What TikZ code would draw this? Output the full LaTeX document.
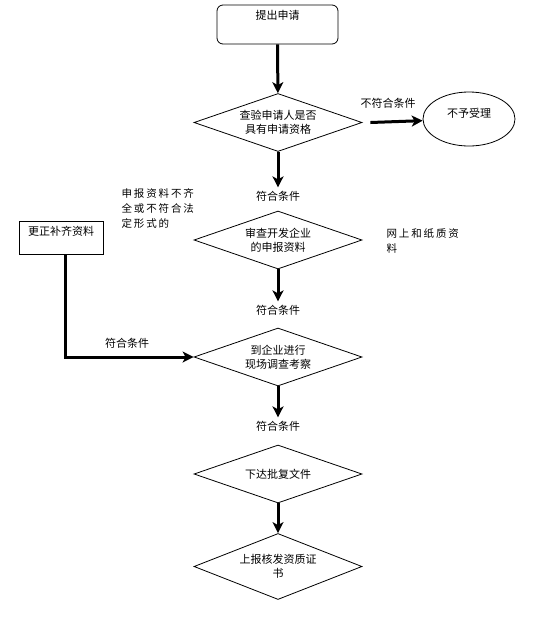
\documentclass[tikz,border=0pt]{standalone}
\usepackage{fontspec}
\setmainfont{Noto Sans CJK SC}
\newfontfamily\widecjk[LetterSpace=18]{Noto Sans CJK SC}
\usetikzlibrary{shapes.geometric,arrows.meta,shadows}
\begin{document}
\begin{tikzpicture}[x=1pt, y=-1pt,
    >={Stealth[length=11pt,width=11pt,inset=3pt]},
    every node/.style={font=\fontsize{11}{14}\selectfont},
    check/.style={diamond, draw, line width=0.8pt, aspect=2.9, minimum width=168pt,
      minimum height=58pt, inner sep=1pt, align=center},
    flow/.style={->, line width=3pt},
    note/.style={anchor=north west, align=left, font=\widecjk\fontsize{10.5}{15}\selectfont}]
    \useasboundingbox (0,0) rectangle (542,638);

    % Steps
    \node[draw, line width=0.8pt, rounded corners=6pt, minimum width=121pt, inner ysep=3pt,
      text height=11pt, text depth=22pt] (apply) at (277.5,24.5) {提出申请};
    \node[check] (verify) at (278,122.5) {查验申请人是否\\具有申请资格};
    \node[check] (review) at (278,240) {审查开发企业\\的申报资料};
    \node[check] (visit) at (278,357) {到企业进行\\现场调查考察};
    \node[check] (issue) at (278,474) {下达批复文件};
    \node[check, minimum height=66pt] (report) at (278,566.5) {上报核发资质证\\书};

    % Side boxes
    \node[ellipse, draw, line width=0.8pt, minimum width=92pt, minimum height=54pt,
      text depth=12pt] (reject) at (469,119) {不予受理};
    \node[draw, line width=0.8pt, minimum width=84pt, inner ysep=3pt, text height=11pt,
      text depth=16pt, drop shadow={shadow xshift=1.2pt, shadow yshift=-1.2pt, fill=gray}, fill=white]
      (fix) at (61,237.5) {更正补齐资料};

    % Labels
    \node (ok1) at (278,196) {符合条件};
    \node (ok2) at (278,310) {符合条件};
    \node (ok3) at (278,426) {符合条件};
    \node (okfix) at (127,343) {符合条件};
    \node (fail) at (388,103) {不符合条件};
    \node[note] (lack) at (118,185) {申报资料不齐\\全或不符合法\\定形式的};
    \node[note] (paper) at (383,225) {网上和纸质资\\料};

    % Arrows
    \draw[flow] (apply) -- (verify);
    \draw[flow] (verify) -- (ok1);
    \draw[flow] (review) -- (ok2);
    \draw[flow] (visit) -- (ok3);
    \draw[flow] (issue) -- (report);
    \draw[flow] ([xshift=8pt]verify.east) -- (reject);
    \draw[flow] ([xshift=4pt]fix.south) |- (visit.west);
\end{tikzpicture}
\end{document}
